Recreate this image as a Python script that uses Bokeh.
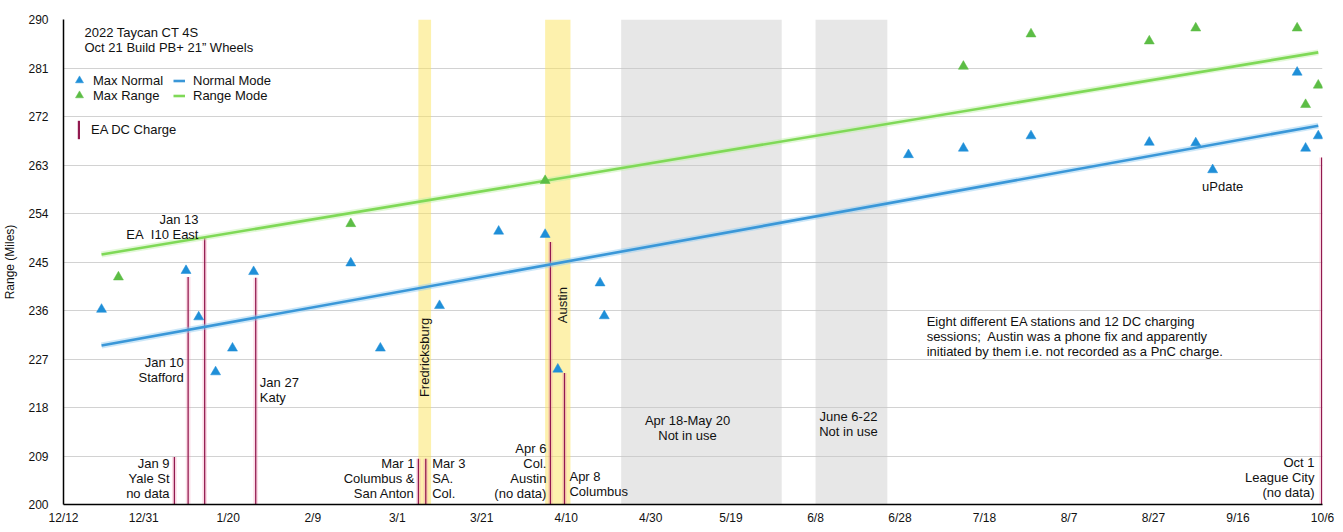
import numpy as np
import pandas as pd
from bokeh.plotting import figure
from bokeh.models import Range1d, FixedTicker, Legend, LegendItem, Label, ColumnDataSource
from bokeh.embed import file_html
from bokeh.resources import INLINE

# ---------------- data ----------------
START = "2021-12-12"

tick_dates = ["2021-12-12", "2021-12-31", "2022-01-20", "2022-02-09", "2022-03-01", "2022-03-21",
              "2022-04-10", "2022-04-30", "2022-05-19", "2022-06-08", "2022-06-28", "2022-07-18",
              "2022-08-07", "2022-08-27", "2022-09-16", "2022-10-06"]
tick_labels = ["12/12", "12/31", "1/20", "2/9", "3/1", "3/21", "4/10", "4/30", "5/19", "6/8",
               "6/28", "7/18", "8/7", "8/27", "9/16", "10/6"]
y_ticks = [200, 209, 218, 227, 236, 245, 254, 263, 272, 281, 290]

normal_dates = ["2021-12-21", "2022-01-10", "2022-01-13", "2022-01-17", "2022-01-21", "2022-01-26",
                "2022-02-18", "2022-02-25", "2022-03-11", "2022-03-25", "2022-04-05", "2022-04-08",
                "2022-04-18", "2022-04-19", "2022-06-30", "2022-07-13", "2022-07-29", "2022-08-26",
                "2022-09-06", "2022-09-10", "2022-09-30", "2022-10-02", "2022-10-05"]
normal_range = [236.2, 243.4, 234.8, 224.6, 229.0, 243.2, 244.8, 229.0, 236.9, 250.7, 250.1, 225.1,
                241.1, 235.0, 264.9, 266.1, 268.4, 267.2, 267.1, 262.1, 280.2, 266.1, 268.4]

range_dates = ["2021-12-25", "2022-02-18", "2022-04-05", "2022-07-13", "2022-07-29", "2022-08-26",
               "2022-09-06", "2022-09-30", "2022-10-02", "2022-10-05"]
range_range = [242.2, 252.1, 260.1, 281.3, 287.3, 286.0, 288.4, 288.4, 274.2, 277.8]

trend_dates = ["2021-12-21", "2022-10-05"]
normal_trend = [229.5, 270.3]
range_trend = [246.4, 283.9]

charge_dates = ["2022-01-07 06:00", "2022-01-10 12:00", "2022-01-14 10:00", "2022-01-26 12:00",
                "2022-03-06 00:00", "2022-03-07 18:00", "2022-04-06 06:00", "2022-04-09 14:00",
                "2022-10-05 19:00"]
charge_top = [208.8, 242.2, 249.6, 242.1, 208.5, 208.5, 248.7, 224.4, 264.4]

trip_start = ["2022-03-06", "2022-04-05"]
trip_end = ["2022-03-09", "2022-04-11"]
idle_start = ["2022-04-23", "2022-06-08"]
idle_end = ["2022-05-31", "2022-06-25"]


def day(s):
    return (pd.to_datetime(pd.Series(s)) - pd.Timestamp(START)) / pd.Timedelta(days=1)


FONT = "Liberation Sans"
BLUE = "#1f8fd8"
GREEN = "#5cbd45"

# ---------------- figure ----------------
p = figure(width=1343, height=532, output_backend="svg", toolbar_location=None,
           x_range=Range1d(0, float(day([tick_dates[-1]])[0])), y_range=Range1d(200, 290),
           min_border_left=63, min_border_right=21, min_border_top=19, min_border_bottom=28)
p.outline_line_color = None
p.background_fill_color = "white"
p.border_fill_color = "white"

# bands
p.quad(left=day(idle_start), right=day(idle_end), bottom=200, top=290,
       fill_color="#c6c6c6", fill_alpha=0.42, line_color=None)
p.quad(left=day(trip_start), right=day(trip_end), bottom=200, top=290,
       fill_color="#fbe45c", fill_alpha=0.5, line_color=None)

# charge lines
csrc = ColumnDataSource(dict(x=day(charge_dates), top=charge_top))
p.vbar(x="x", width=1.1, top="top", bottom=200, source=csrc,
       fill_color="#f48fb1", fill_alpha=0.3, line_color=None)
r_charge = p.vbar(x="x", width=0.3, top="top", bottom=200, source=csrc,
                  fill_color="#92194f", line_color=None)

# trend lines
tx = day(trend_dates)
p.line(tx, normal_trend, line_color="#8fc9f0", line_width=6, line_alpha=0.45)
r_ntrend = p.line(tx, normal_trend, line_color="#3a97d8", line_width=2.6)
p.line(tx, range_trend, line_color="#bff0a6", line_width=6, line_alpha=0.45)
r_rtrend = p.line(tx, range_trend, line_color="#7fd957", line_width=2.6)

# markers
r_norm = p.scatter(day(normal_dates), normal_range, marker="triangle", size=10,
                   fill_color=BLUE, line_color=BLUE, line_width=0.5)
r_rng = p.scatter(day(range_dates), range_range, marker="triangle", size=10,
                  fill_color=GREEN, line_color=GREEN, line_width=0.5)

# axes
p.xaxis.ticker = FixedTicker(ticks=list(day(tick_dates)))
p.xaxis.major_label_overrides = {float(t): l for t, l in zip(day(tick_dates), tick_labels)}
p.yaxis.ticker = FixedTicker(ticks=y_ticks)
for ax in (p.xaxis, p.yaxis):
    ax.axis_line_color = "black"
    ax.axis_line_width = 1.5
    ax.major_tick_line_color = None
    ax.minor_tick_line_color = None
    ax.major_tick_out = 0
    ax.major_tick_in = 0
    ax.minor_tick_out = 0
    ax.major_label_text_font = FONT
    ax.major_label_text_font_size = "12px"
    ax.major_label_text_color = "#111111"
p.xaxis.major_label_standoff = 6
p.yaxis.major_label_standoff = 15
p.yaxis.axis_label = "Range (Miles)"
p.yaxis.axis_label_text_font = FONT
p.yaxis.axis_label_text_font_size = "12px"
p.yaxis.axis_label_text_font_style = "normal"
p.yaxis.axis_label_text_color = "#111111"
p.yaxis.axis_label_standoff = 8
p.xgrid.grid_line_color = None
p.ygrid.grid_line_color = "#d2d2d2"
p.ygrid.grid_line_width = 1

# legends
common = dict(border_line_color=None, background_fill_alpha=0, padding=0, margin=0, spacing=0,
              label_text_font=FONT, label_text_font_size="13px", label_text_color="#111111")
legA1 = Legend(items=[LegendItem(label="Max Normal", renderers=[r_norm])],
               location=(6, 414), glyph_width=20, glyph_height=20, label_height=20,
               label_standoff=4, **common)
legA2 = Legend(items=[LegendItem(label="Max Range", renderers=[r_rng])],
               location=(6, 399), glyph_width=20, glyph_height=20, label_height=20,
               label_standoff=4, **common)
legB = Legend(items=[LegendItem(label="Normal Mode", renderers=[r_ntrend]),
                     LegendItem(label="Range Mode", renderers=[r_rtrend])],
              location=(110, 401), glyph_width=12, glyph_height=15, label_height=15,
              label_standoff=8, **common)
legC = Legend(items=[LegendItem(label="EA DC Charge", renderers=[r_charge])],
              location=(14, 363), glyph_width=3, glyph_height=23, label_height=23,
              label_standoff=11, **common)
for lg in (legA1, legA2, legB, legC):
    p.add_layout(lg)

# text annotations: (x day, first-line y value, lines, align)
STEP = 15 / (485 / 90)
notes = [
    (4.97, 287.6, ["2022 Taycan CT 4S", "Oct 21 Build PB+ 21\u201d Wheels"], "left"),
    (31.95, 252.9, ["Jan 13", "EA\u00a0 I10 East"], "right"),
    (28.47, 226.4, ["Jan 10", "Stafford"], "right"),
    (46.47, 222.6, ["Jan 27", "Katy"], "left"),
    (25.09, 207.67, ["Jan 9", "Yale St", "no data"], "right"),
    (83.08, 207.6, ["Mar 1", "Columbus &", "San Anton"], "right"),
    (87.26, 207.6, ["Mar 3", "SA.", "Col."], "left"),
    (114.3, 210.4, ["Apr 6", "Col.", "Austin", "(no data)"], "right"),
    (119.76, 205.2, ["Apr 8", "Columbus"], "left"),
    (147.7, 215.6, ["Apr 18-May 20", "Not in use"], "center"),
    (185.8, 216.3, ["June 6-22", "Not in use"], "center"),
    (269.5, 259.1, ["uPdate"], "left"),
    (204.3, 234.0, ["Eight different EA stations and 12 DC charging",
                    "sessions;\u00a0 Austin was a phone fix and apparently",
                    "initiated by them i.e. not recorded as a PnC charge."], "left"),
    (296.1, 207.85, ["Oct 1", "League City", "(no data)"], "right"),
]
for x, y, lines, align in notes:
    for i, t in enumerate(lines):
        p.add_layout(Label(x=x, y=y - i * STEP, text=t, text_align=align, text_baseline="middle",
                           text_font=FONT, text_font_size="13px", text_color="#111111"))

for x, y, t in [(85.44, 227.3, "Fredricksburg"), (118.0, 237.0, "Austin")]:
    p.add_layout(Label(x=x, y=y, text=t, angle=np.pi / 2, text_align="center",
                       text_baseline="middle", text_font=FONT, text_font_size="13px",
                       text_color="#111111"))

open("out.html", "w").write(file_html(p, INLINE))
